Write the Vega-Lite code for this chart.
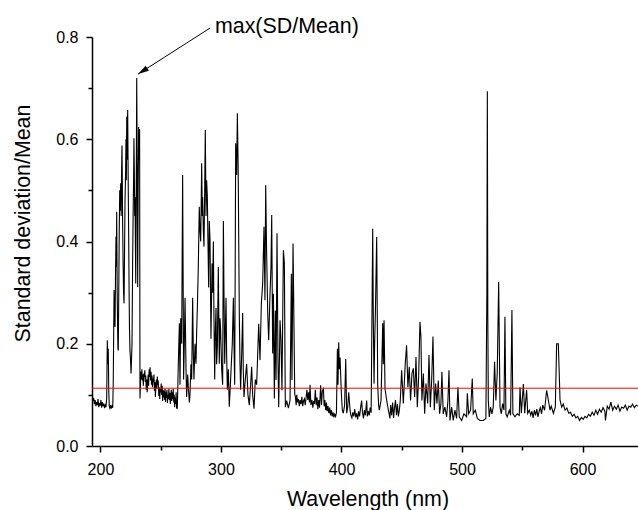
{
"$schema": "https://vega.github.io/schema/vega-lite/v6.json",
"autosize": "none",
"width": 546,
"height": 409,
"padding": {"left": 92, "top": 37, "right": 0, "bottom": 64},
"background": "white",
"config": {"font": "Liberation Sans", "view": {"stroke": null}, "axis": {"domainColor": "black", "tickColor": "black", "labelColor": "black", "titleColor": "black", "grid": false, "domainWidth": 1.5, "tickWidth": 1.5, "labelFont": "Liberation Sans", "titleFont": "Liberation Sans", "labelFontSize": 16, "titleFontSize": 21.4, "titleFontWeight": "normal"}},
"datasets": {
"spectrum": [
{"w":193.0,"v":0.100},{"w":193.4,"v":0.098},{"w":193.8,"v":0.088},{"w":194.4,"v":0.094},{"w":195.0,"v":0.082},{"w":195.6,"v":0.090},{"w":196.2,"v":0.078},{"w":196.8,"v":0.086},{"w":197.4,"v":0.080},{"w":198.0,"v":0.092},{"w":198.6,"v":0.076},{"w":199.2,"v":0.084},{"w":199.8,"v":0.079},{"w":200.4,"v":0.090},{"w":201.0,"v":0.075},{"w":201.6,"v":0.086},{"w":202.2,"v":0.078},{"w":202.8,"v":0.083},{"w":203.4,"v":0.074},{"w":204.0,"v":0.080},{"w":204.6,"v":0.076},{"w":205.2,"v":0.094},{"w":205.7,"v":0.207},{"w":206.1,"v":0.160},{"w":206.5,"v":0.190},{"w":206.9,"v":0.110},{"w":207.3,"v":0.078},{"w":207.8,"v":0.074},{"w":208.4,"v":0.080},{"w":209.0,"v":0.073},{"w":209.6,"v":0.078},{"w":210.2,"v":0.075},
{"w":210.6,"v":0.12},{"w":211.0,"v":0.22},{"w":211.3,"v":0.305},{"w":211.7,"v":0.25},{"w":212.1,"v":0.233},{"w":212.5,"v":0.33},{"w":212.9,"v":0.41},{"w":213.2,"v":0.35},{"w":213.5,"v":0.458},{"w":213.9,"v":0.30},{"w":214.2,"v":0.24},{"w":214.5,"v":0.19},{"w":214.8,"v":0.187},{"w":215.2,"v":0.30},{"w":215.6,"v":0.42},{"w":216.0,"v":0.50},{"w":216.4,"v":0.46},{"w":216.8,"v":0.514},{"w":217.2,"v":0.45},{"w":217.5,"v":0.53},{"w":217.9,"v":0.588},{"w":218.2,"v":0.50},{"w":218.4,"v":0.438},{"w":218.8,"v":0.36},{"w":219.2,"v":0.30},{"w":219.6,"v":0.279},{"w":220.0,"v":0.38},{"w":220.4,"v":0.48},{"w":220.9,"v":0.54},{"w":221.2,"v":0.60},{"w":221.5,"v":0.52},{"w":221.8,"v":0.644},{"w":222.2,"v":0.56},{"w":222.6,"v":0.657},{"w":223.0,"v":0.53},{"w":223.4,"v":0.416},{"w":223.8,"v":0.30},{"w":224.1,"v":0.23},{"w":224.5,"v":0.187},{"w":224.9,"v":0.17},{"w":225.4,"v":0.142},{"w":225.8,"v":0.17},{"w":226.2,"v":0.20},{"w":226.7,"v":0.357},{"w":227.1,"v":0.45},{"w":227.5,"v":0.52},{"w":227.8,"v":0.602},{"w":228.1,"v":0.54},{"w":228.4,"v":0.45},{"w":228.7,"v":0.487},{"w":229.0,"v":0.40},{"w":229.3,"v":0.318},{"w":229.7,"v":0.50},{"w":230.1,"v":0.72},{"w":230.5,"v":0.55},{"w":230.9,"v":0.311},{"w":231.3,"v":0.50},{"w":231.7,"v":0.624},{"w":232.1,"v":0.56},{"w":232.5,"v":0.62},{"w":232.8,"v":0.093},
{"w":233.2,"v":0.12},{"w":233.6,"v":0.145},{"w":234.0,"v":0.13},{"w":234.4,"v":0.150},{"w":234.8,"v":0.128},{"w":235.2,"v":0.140},{"w":235.6,"v":0.118},{"w":236.0,"v":0.142},{"w":236.4,"v":0.135},{"w":236.8,"v":0.148},{"w":237.2,"v":0.125},{"w":237.6,"v":0.138},{"w":238.0,"v":0.110},{"w":238.4,"v":0.130},{"w":238.8,"v":0.105},{"w":239.2,"v":0.125},{"w":239.6,"v":0.140},{"w":240.0,"v":0.118},{"w":240.4,"v":0.150},{"w":240.8,"v":0.135},{"w":241.2,"v":0.154},{"w":241.6,"v":0.128},{"w":242.0,"v":0.145},{"w":242.4,"v":0.120},{"w":242.8,"v":0.138},{"w":243.2,"v":0.115},{"w":243.6,"v":0.132},{"w":244.0,"v":0.125},{"w":244.4,"v":0.140},{"w":244.8,"v":0.108},{"w":245.2,"v":0.125},{"w":245.6,"v":0.096},{"w":246.0,"v":0.118},{"w":246.4,"v":0.130},{"w":246.8,"v":0.112},{"w":247.2,"v":0.136},{"w":247.6,"v":0.120},{"w":248.0,"v":0.128},{"w":248.4,"v":0.098},{"w":248.8,"v":0.115},{"w":249.2,"v":0.092},{"w":249.6,"v":0.112},{"w":250.0,"v":0.105},{"w":250.4,"v":0.122},{"w":250.8,"v":0.100},{"w":251.2,"v":0.118},{"w":251.6,"v":0.088},{"w":252.0,"v":0.110},{"w":252.4,"v":0.095},{"w":252.8,"v":0.108},{"w":253.2,"v":0.090},{"w":253.6,"v":0.112},{"w":254.0,"v":0.086},{"w":254.4,"v":0.105},{"w":254.8,"v":0.094},{"w":255.2,"v":0.110},{"w":255.6,"v":0.084},{"w":256.0,"v":0.100},{"w":256.4,"v":0.092},{"w":256.8,"v":0.112},{"w":257.2,"v":0.090},{"w":257.6,"v":0.104},{"w":258.0,"v":0.082},{"w":258.4,"v":0.098},{"w":258.8,"v":0.110},{"w":259.2,"v":0.088},{"w":259.6,"v":0.105},{"w":260.0,"v":0.092},{"w":260.4,"v":0.112},{"w":260.8,"v":0.085},{"w":261.2,"v":0.100},{"w":261.6,"v":0.076},{"w":262.0,"v":0.095},{"w":262.4,"v":0.082},{"w":262.8,"v":0.105},{"w":263.2,"v":0.074},
{"w":263.8,"v":0.074},{"w":264.6,"v":0.16},{"w":265.5,"v":0.24},{"w":266.0,"v":0.12},{"w":266.6,"v":0.25},{"w":267.4,"v":0.20},{"w":268.2,"v":0.53},{"w":269.0,"v":0.13},{"w":269.6,"v":0.20},{"w":270.2,"v":0.29},{"w":271.0,"v":0.15},{"w":271.5,"v":0.096},{"w":272.4,"v":0.14},{"w":272.9,"v":0.116},{"w":273.8,"v":0.085},{"w":274.3,"v":0.10},{"w":275.1,"v":0.16},{"w":275.7,"v":0.13},{"w":276.5,"v":0.29},{"w":277.1,"v":0.18},{"w":277.6,"v":0.13},{"w":278.5,"v":0.20},{"w":279.3,"v":0.161},{"w":279.8,"v":0.22},{"w":280.4,"v":0.27},{"w":281.2,"v":0.35},{"w":282.0,"v":0.468},{"w":282.6,"v":0.42},{"w":283.2,"v":0.40},{"w":284.0,"v":0.553},{"w":284.5,"v":0.45},{"w":284.8,"v":0.487},{"w":285.4,"v":0.42},{"w":285.9,"v":0.39},{"w":286.5,"v":0.50},{"w":287.0,"v":0.618},{"w":287.6,"v":0.45},{"w":288.1,"v":0.52},{"w":288.7,"v":0.487},{"w":289.2,"v":0.40},{"w":289.8,"v":0.31},{"w":290.3,"v":0.44},{"w":290.9,"v":0.405},{"w":291.7,"v":0.21},{"w":292.6,"v":0.357},{"w":293.1,"v":0.30},{"w":293.7,"v":0.40},{"w":294.2,"v":0.25},{"w":294.8,"v":0.13},{"w":295.3,"v":0.22},{"w":295.9,"v":0.27},{"w":296.4,"v":0.16},{"w":297.0,"v":0.194},{"w":297.8,"v":0.35},{"w":298.6,"v":0.161},{"w":299.2,"v":0.25},{"w":299.7,"v":0.227},{"w":300.6,"v":0.15},{"w":301.4,"v":0.12},{"w":302.0,"v":0.44},{"w":302.5,"v":0.30},{"w":303.1,"v":0.161},{"w":303.6,"v":0.22},{"w":304.2,"v":0.29},{"w":304.7,"v":0.18},{"w":305.3,"v":0.11},{"w":306.1,"v":0.15},{"w":306.9,"v":0.077},{"w":307.8,"v":0.12},{"w":308.6,"v":0.161},{"w":309.4,"v":0.20},{"w":310.3,"v":0.29},{"w":310.8,"v":0.20},{"w":311.4,"v":0.12},{"w":311.9,"v":0.40},{"w":312.2,"v":0.592},{"w":312.7,"v":0.55},{"w":313.0,"v":0.53},{"w":313.6,"v":0.651},{"w":314.1,"v":0.57},{"w":314.4,"v":0.51},{"w":315.2,"v":0.26},{"w":315.8,"v":0.16},{"w":316.3,"v":0.11},{"w":317.2,"v":0.18},{"w":318.0,"v":0.26},{"w":318.5,"v":0.15},{"w":319.1,"v":0.096},{"w":320.2,"v":0.13},{"w":321.3,"v":0.161},{"w":322.4,"v":0.10},{"w":323.5,"v":0.08},{"w":324.6,"v":0.12},{"w":325.5,"v":0.155},{"w":326.3,"v":0.10},{"w":327.4,"v":0.073},{"w":328.5,"v":0.13},{"w":329.6,"v":0.12},
{"w":330.2,"v":0.161},{"w":331.3,"v":0.239},{"w":332.4,"v":0.168},{"w":333.5,"v":0.279},{"w":334.6,"v":0.318},{"w":335.7,"v":0.429},{"w":336.5,"v":0.285},{"w":337.1,"v":0.51},{"w":337.9,"v":0.376},{"w":338.8,"v":0.259},{"w":339.6,"v":0.207},{"w":340.7,"v":0.298},{"w":341.5,"v":0.35},{"w":342.1,"v":0.452},{"w":342.9,"v":0.181},{"w":343.5,"v":0.298},{"w":344.3,"v":0.093},{"w":345.1,"v":0.265},{"w":345.7,"v":0.129},{"w":346.5,"v":0.416},{"w":347.3,"v":0.168},{"w":347.9,"v":0.076},{"w":349.0,"v":0.246},{"w":349.8,"v":0.207},{"w":350.6,"v":0.109},{"w":351.8,"v":0.383},{"w":352.6,"v":0.357},{"w":353.4,"v":0.076},{"w":354.5,"v":0.089},{"w":355.9,"v":0.074},{"w":357.3,"v":0.089},{"w":358.4,"v":0.337},{"w":358.9,"v":0.129},{"w":359.8,"v":0.396},{"w":360.3,"v":0.29},{"w":361.2,"v":0.102},
{"w":361.8,"v":0.095},{"w":362.4,"v":0.08},{"w":362.9,"v":0.10},{"w":363.6,"v":0.085},{"w":364.3,"v":0.092},{"w":365.0,"v":0.078},{"w":365.7,"v":0.09},{"w":366.4,"v":0.082},{"w":367.1,"v":0.096},{"w":367.8,"v":0.078},{"w":368.5,"v":0.088},{"w":369.2,"v":0.092},{"w":369.9,"v":0.08},{"w":370.6,"v":0.094},{"w":371.3,"v":0.11},{"w":372.0,"v":0.09},{"w":372.7,"v":0.105},{"w":373.4,"v":0.085},{"w":373.9,"v":0.12},{"w":374.6,"v":0.08},{"w":375.5,"v":0.09},{"w":376.2,"v":0.075},{"w":376.9,"v":0.088},{"w":377.6,"v":0.082},{"w":378.3,"v":0.11},{"w":379.0,"v":0.08},{"w":379.7,"v":0.095},{"w":380.4,"v":0.072},{"w":381.1,"v":0.09},{"w":381.8,"v":0.075},{"w":382.7,"v":0.119},{"w":383.4,"v":0.08},{"w":384.1,"v":0.108},{"w":385.0,"v":0.112},{"w":385.6,"v":0.078},{"w":386.2,"v":0.09},{"w":386.9,"v":0.07},{"w":387.5,"v":0.085},{"w":388.1,"v":0.068},{"w":388.8,"v":0.078},{"w":389.5,"v":0.064},{"w":390.2,"v":0.075},{"w":390.9,"v":0.06},{"w":391.6,"v":0.07},{"w":392.3,"v":0.058},{"w":393.0,"v":0.066},{"w":393.7,"v":0.056},{"w":394.4,"v":0.062},{"w":395.1,"v":0.058},{"w":395.8,"v":0.065},
{"w":396.6,"v":0.19},{"w":397.1,"v":0.12},{"w":397.7,"v":0.203},{"w":398.2,"v":0.15},{"w":398.8,"v":0.173},{"w":399.9,"v":0.102},{"w":400.7,"v":0.07},{"w":401.5,"v":0.064},{"w":402.6,"v":0.08},{"w":403.5,"v":0.17},{"w":404.3,"v":0.064},{"w":405.1,"v":0.075},{"w":406.0,"v":0.105},{"w":407.1,"v":0.07},{"w":407.8,"v":0.06},{"w":408.6,"v":0.055},{"w":409.4,"v":0.066},{"w":410.2,"v":0.058},{"w":411.0,"v":0.072},{"w":411.8,"v":0.056},{"w":412.6,"v":0.064},{"w":413.4,"v":0.052},{"w":414.2,"v":0.068},{"w":415.0,"v":0.058},{"w":415.8,"v":0.074},{"w":416.7,"v":0.089},{"w":417.4,"v":0.066},{"w":418.2,"v":0.054},{"w":419.0,"v":0.07},{"w":419.8,"v":0.06},{"w":420.9,"v":0.089},{"w":421.4,"v":0.058},{"w":422.2,"v":0.068},{"w":423.0,"v":0.06},{"w":423.8,"v":0.075},{"w":424.6,"v":0.065},
{"w":425.9,"v":0.425},{"w":426.4,"v":0.25},{"w":427.0,"v":0.122},{"w":427.5,"v":0.2},{"w":428.1,"v":0.259},{"w":429.2,"v":0.409},{"w":429.7,"v":0.25},{"w":430.0,"v":0.122},{"w":430.8,"v":0.08},{"w":431.4,"v":0.07},{"w":432.8,"v":0.089},{"w":434.2,"v":0.24},{"w":434.7,"v":0.16},{"w":435.3,"v":0.246},{"w":436.1,"v":0.112},{"w":437.5,"v":0.089},{"w":438.9,"v":0.07},{"w":440.2,"v":0.054},
{"w":440.8,"v":0.08},{"w":441.6,"v":0.06},{"w":442.4,"v":0.085},{"w":443.2,"v":0.055},{"w":444.0,"v":0.075},{"w":444.8,"v":0.09},{"w":445.6,"v":0.06},{"w":446.4,"v":0.082},{"w":447.2,"v":0.058},{"w":448.0,"v":0.07},{"w":448.8,"v":0.09},
{"w":449.9,"v":0.148},{"w":451.3,"v":0.083},{"w":452.9,"v":0.161},{"w":454.0,"v":0.197},{"w":455.1,"v":0.115},{"w":456.2,"v":0.155},{"w":457.3,"v":0.089},{"w":458.5,"v":0.142},{"w":459.6,"v":0.152},{"w":460.7,"v":0.096},{"w":461.8,"v":0.174},{"w":462.9,"v":0.076},{"w":464.0,"v":0.135},{"w":465.1,"v":0.243},{"w":465.9,"v":0.214},{"w":466.7,"v":0.089},{"w":467.9,"v":0.142},{"w":469.0,"v":0.063},{"w":470.1,"v":0.122},{"w":471.5,"v":0.083},{"w":472.6,"v":0.178},{"w":473.7,"v":0.076},{"w":474.8,"v":0.128},{"w":475.9,"v":0.214},{"w":477.0,"v":0.07},{"w":478.1,"v":0.122},{"w":479.2,"v":0.083},{"w":480.3,"v":0.128},{"w":481.4,"v":0.063},{"w":482.5,"v":0.083},{"w":483.3,"v":0.145},{"w":484.4,"v":0.063},{"w":485.8,"v":0.076},{"w":487.2,"v":0.057},{"w":488.3,"v":0.089},{"w":489.2,"v":0.148},{"w":490.0,"v":0.05},{"w":491.4,"v":0.076},{"w":492.7,"v":0.05},{"w":494.1,"v":0.07},{"w":495.5,"v":0.054},{"w":496.6,"v":0.115},{"w":497.7,"v":0.057},{"w":499.7,"v":0.05},{"w":501.6,"v":0.063},{"w":503.8,"v":0.057},{"w":504.4,"v":0.103},{"w":505.5,"v":0.063},{"w":507.1,"v":0.07},{"w":508.5,"v":0.132},{"w":509.3,"v":0.063},{"w":511.0,"v":0.07},{"w":512.7,"v":0.054},{"w":514.9,"v":0.05},{"w":517.6,"v":0.05},{"w":519.8,"v":0.054},{"w":520.6,"v":0.30},{"w":521.0,"v":0.694},{"w":521.4,"v":0.25},{"w":521.8,"v":0.089},{"w":522.6,"v":0.057},{"w":523.7,"v":0.076},{"w":524.8,"v":0.063},{"w":525.9,"v":0.076},{"w":527.0,"v":0.165},{"w":528.1,"v":0.089},{"w":529.2,"v":0.142},{"w":530.4,"v":0.321},{"w":531.5,"v":0.076},{"w":532.6,"v":0.063},{"w":533.7,"v":0.083},{"w":534.8,"v":0.07},{"w":535.6,"v":0.253},{"w":536.4,"v":0.063},{"w":537.5,"v":0.057},{"w":539.2,"v":0.07},{"w":540.3,"v":0.06},{"w":541.4,"v":0.266},{"w":542.2,"v":0.063},{"w":543.9,"v":0.057},{"w":545.8,"v":0.063},{"w":547.5,"v":0.06},
{"w":548.1,"v":0.115},{"w":549.2,"v":0.064},{"w":550.9,"v":0.121},{"w":552.0,"v":0.064},{"w":553.6,"v":0.11},{"w":554.5,"v":0.064},{"w":555.8,"v":0.07},{"w":557.0,"v":0.06},{"w":558.0,"v":0.068},{"w":559.0,"v":0.055},{"w":560.0,"v":0.07},{"w":561.0,"v":0.06},{"w":562.0,"v":0.072},{"w":563.0,"v":0.057},{"w":564.0,"v":0.068},{"w":565.0,"v":0.075},{"w":566.0,"v":0.063},{"w":567.0,"v":0.08},{"w":568.5,"v":0.07},{"w":570.2,"v":0.109},{"w":571.6,"v":0.09},{"w":573.0,"v":0.07},{"w":574.0,"v":0.078},{"w":575.8,"v":0.064},{"w":577.4,"v":0.076},{"w":578.5,"v":0.20},{"w":579.9,"v":0.20},{"w":581.3,"v":0.09},{"w":582.7,"v":0.076},{"w":584.0,"v":0.082},{"w":585.5,"v":0.07},{"w":587.0,"v":0.074},{"w":588.5,"v":0.064},{"w":590.0,"v":0.066},{"w":591.5,"v":0.058},{"w":593.0,"v":0.062},{"w":594.5,"v":0.055},{"w":596.0,"v":0.058},{"w":597.5,"v":0.05},{"w":599.0,"v":0.056},{"w":600.5,"v":0.052},{"w":602.0,"v":0.058},{"w":603.5,"v":0.055},{"w":605.0,"v":0.062},{"w":606.5,"v":0.058},{"w":608.0,"v":0.066},{"w":609.5,"v":0.06},{"w":611.0,"v":0.07},{"w":612.5,"v":0.062},{"w":614.0,"v":0.072},{"w":615.5,"v":0.066},{"w":617.0,"v":0.075},{"w":618.5,"v":0.068},{"w":619.0,"v":0.05},{"w":620.5,"v":0.078},{"w":622.0,"v":0.072},{"w":623.5,"v":0.086},{"w":625.0,"v":0.07},{"w":626.5,"v":0.078},{"w":628.0,"v":0.072},{"w":629.5,"v":0.08},{"w":631.0,"v":0.068},{"w":632.5,"v":0.076},{"w":634.0,"v":0.074},{"w":635.5,"v":0.08},{"w":637.0,"v":0.07},{"w":638.5,"v":0.078},{"w":640.0,"v":0.076},{"w":641.5,"v":0.082},{"w":643.0,"v":0.075},{"w":644.5,"v":0.08},{"w":646.0,"v":0.078}
],
"threshold": [{"level": 0.113}],
"note": [{"w": 295.0, "v": 0.8076, "label": "max(SD/Mean)"}],
"arrow": [{"w0": 290.9, "v0": 0.8174, "w1": 231.2, "v1": 0.7274}]
},
"layer": [
{"data": {"name": "spectrum"}, "mark": {"type": "line", "color": "black", "strokeWidth": 1.1, "clip": true},
 "encoding": {
  "x": {"field": "w", "type": "quantitative", "scale": {"domain": [193, 646], "nice": false, "zero": false},
   "axis": {"orient": "bottom", "values": [200, 250, 300, 350, 400, 450, 500, 550, 600], "labelExpr": "datum.value % 100 === 0 ? datum.label : ''", "labelFlush": false, "tickSize": {"condition": {"test": "datum.value % 100 === 0", "value": 6}, "value": 4}, "labelPadding": 9.5, "title": "Wavelength (nm)", "titleX": 275.5, "titleY": 59, "titleBaseline": "alphabetic", "titleAlign": "center"}},
  "y": {"field": "v", "type": "quantitative", "scale": {"domain": [0, 0.8], "nice": false},
   "axis": {"orient": "left", "values": [0, 0.1, 0.2, 0.3, 0.4, 0.5, 0.6, 0.7, 0.8], "labelExpr": "round(datum.value * 10) % 2 === 0 ? format(datum.value, '.1f') : ''", "labelFlush": false, "tickSize": {"condition": {"test": "round(datum.value * 10) % 2 === 0", "value": 6}, "value": 4}, "labelPadding": 8, "title": "Standard deviation/Mean", "titleX": -62.3, "titleY": 186, "titleAngle": -90, "titleBaseline": "alphabetic", "titleAlign": "center"}}
 }},
{"data": {"name": "threshold"}, "mark": {"type": "rule", "color": "#ff0000", "strokeWidth": 1},
 "encoding": {"y": {"field": "level", "type": "quantitative"}}},
{"data": {"name": "note"}, "mark": {"type": "text", "align": "left", "baseline": "alphabetic", "fontSize": 21.4, "color": "black"},
 "encoding": {
  "x": {"field": "w", "type": "quantitative"},
  "y": {"field": "v", "type": "quantitative"},
  "text": {"field": "label"}
 }},
{"data": {"name": "arrow"}, "mark": {"type": "rule", "color": "black", "strokeWidth": 1},
 "encoding": {"x": {"field": "w0", "type": "quantitative"}, "y": {"field": "v0", "type": "quantitative"}, "x2": {"field": "w1"}, "y2": {"field": "v1"}}},
{"data": {"name": "arrow"}, "mark": {"type": "point", "shape": "M0,0L0.27,1L-0.27,1Z", "filled": true, "color": "black", "opacity": 1, "size": 484, "angle": 237.4},
 "encoding": {"x": {"field": "w1", "type": "quantitative"}, "y": {"field": "v1", "type": "quantitative"}}}
]
}
